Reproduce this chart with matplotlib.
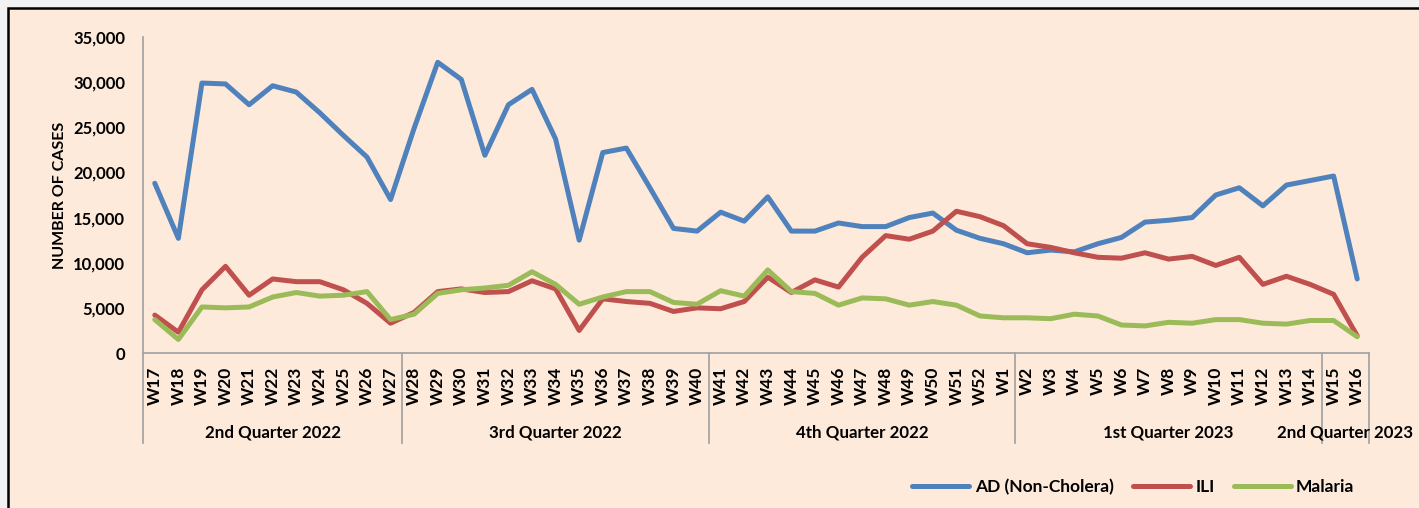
import matplotlib.pyplot as plt
from matplotlib.patches import Rectangle
from matplotlib.ticker import FuncFormatter
import matplotlib.transforms as mtransforms

plt.rcParams['font.family'] = ['Lato', 'DejaVu Sans']
plt.rcParams['font.weight'] = 'bold'

# week labels: W17..W52 of 2022 then W1..W16 of 2023
weeks = ['W' + str(w) for w in range(17, 53)] + ['W' + str(w) for w in range(1, 17)]

ad_cases = [18800, 12700, 29900, 29800, 27500, 29600, 28900, 26600, 24100, 21700,
            17000, 24900, 32200, 30300, 21900, 27500, 29200, 23700, 12500, 22200,
            22700, 18300, 13800, 13500, 15600, 14600, 17300, 13500, 13500, 14400,
            14000, 14000, 15000, 15500, 13600, 12700, 12100, 11100, 11400, 11200,
            12100, 12800, 14500, 14700, 15000, 17500, 18300, 16300, 18600, 19100,
            19600, 8200]
ili_cases = [4200, 2300, 7000, 9600, 6400, 8200, 7900, 7900, 7000, 5500,
             3300, 4500, 6800, 7100, 6700, 6800, 8000, 7100, 2500, 6000,
             5700, 5500, 4600, 5000, 4900, 5700, 8400, 6700, 8100, 7300,
             10600, 13000, 12600, 13500, 15700, 15100, 14100, 12100, 11700, 11100,
             10600, 10500, 11100, 10400, 10700, 9700, 10600, 7600, 8500, 7600,
             6500, 1900]
malaria_cases = [3700, 1500, 5100, 5000, 5100, 6200, 6700, 6300, 6400, 6800,
                 3700, 4300, 6600, 7000, 7200, 7500, 9000, 7600, 5400, 6200,
                 6800, 6800, 5600, 5400, 6900, 6300, 9200, 6800, 6600, 5300,
                 6100, 6000, 5300, 5700, 5300, 4100, 3900, 3900, 3800, 4300,
                 4100, 3100, 3000, 3400, 3300, 3700, 3700, 3300, 3200, 3600,
                 3600, 1800]

quarters = ['2nd Quarter 2022', '3rd Quarter 2022', '4th Quarter 2022',
            '1st Quarter 2023', '2nd Quarter 2023']
quarter_sizes = [11, 13, 13, 13, 2]

fig = plt.figure(figsize=(14.19, 5.08), dpi=100)
fig.patch.set_facecolor('#F2F2F2')
fig.patches.append(Rectangle((8 / 1419, -0.05), 1.1, 1 - 8 / 508 + 0.05,
                             transform=fig.transFigure, facecolor='#FDEADA',
                             edgecolor='black', linewidth=1.8, zorder=-10))

ax = fig.add_axes([143 / 1419, 155 / 508, (1369 - 143) / 1419, (353 - 37) / 508])
ax.set_facecolor('none')

x = list(range(len(weeks)))
ax.plot(x, ad_cases, color='#4F81BD', lw=3.6, label='AD (Non-Cholera)', solid_capstyle='round')
ax.plot(x, ili_cases, color='#C0504D', lw=3.6, label='ILI', solid_capstyle='round')
ax.plot(x, malaria_cases, color='#9BBB59', lw=3.6, label='Malaria', solid_capstyle='round')

ax.set_xlim(-0.5, len(weeks) - 0.5)
ax.set_ylim(0, 35000)
ax.set_yticks(range(0, 35001, 5000))
ax.yaxis.set_major_formatter(FuncFormatter(lambda v, p: f'{int(v):,}'))
ax.set_xticks(x)
ax.set_xticklabels(weeks, rotation=90, fontsize=12.5, fontweight='bold')
ax.tick_params(axis='both', length=0)
ax.tick_params(axis='y', labelsize=12, pad=13)
ax.tick_params(axis='x', pad=10)
for s in ['top', 'right']:
    ax.spines[s].set_visible(False)
for s in ['left', 'bottom']:
    ax.spines[s].set_color('#A6A6A6')
    ax.spines[s].set_linewidth(1.3)

ax.set_ylabel('NUMBER OF CASES', fontsize=11.5, fontweight='bold', labelpad=4)

# quarter group separators and labels
trans = mtransforms.blended_transform_factory(ax.transData, ax.transAxes)
edge = -0.5
ax.plot([edge, edge], [0, -0.285], color='#A6A6A6', lw=1.3, transform=trans, clip_on=False)
for name, size in zip(quarters, quarter_sizes):
    start = edge
    edge = edge + size
    ax.plot([edge, edge], [0, -0.285], color='#A6A6A6', lw=1.3, transform=trans, clip_on=False)
    ax.text((start + edge) / 2, -0.25, name, transform=trans, ha='center', va='center',
            fontsize=12.2, fontweight='bold')

fig.legend(loc='center right', bbox_to_anchor=(1370 / 1419, 1 - 487 / 508), ncol=3,
           frameon=False, fontsize=12.5, handlelength=3.3, columnspacing=1.1,
           handletextpad=0.3)

fig.savefig('out.png', dpi=100, facecolor=fig.get_facecolor())
